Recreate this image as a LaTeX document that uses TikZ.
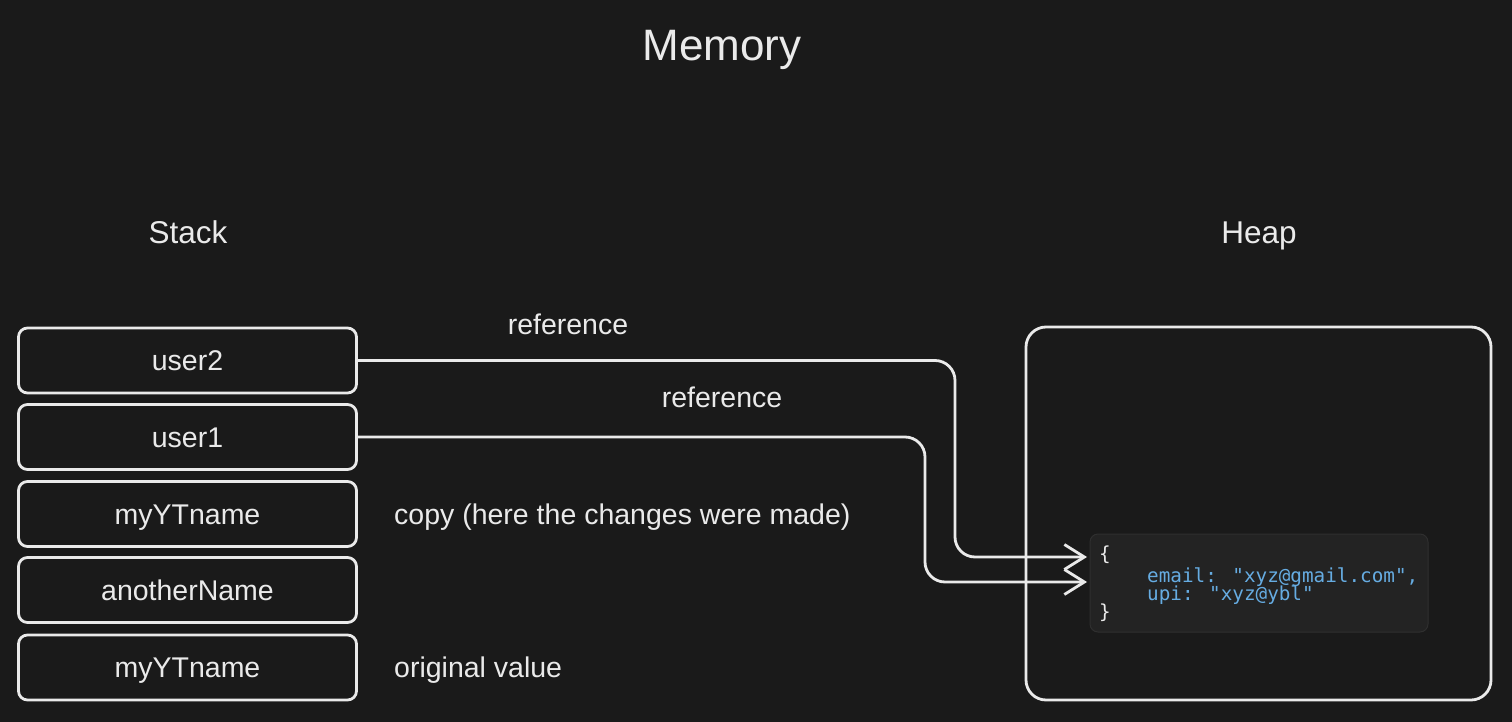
\documentclass[tikz,border=0pt]{standalone}
\usepackage{fontspec}
\setmainfont{Liberation Sans}
\newfontfamily\codefont{DejaVu Sans Mono}
\usetikzlibrary{arrows.meta}
\definecolor{bg}{HTML}{1A1A1A}
\definecolor{ink}{HTML}{EAEAEA}
\definecolor{codebg}{HTML}{232323}
\definecolor{codeline}{HTML}{2F2F2F}
\definecolor{codeblue}{HTML}{66ACE2}
\tikzset{
  stackbox/.style={draw=ink, line width=2.8pt, rounded corners=9pt, minimum width=338pt, minimum height=65pt, inner sep=0pt, text=ink, text height=20pt, text depth=0pt, font=\fontsize{28.5}{32}\selectfont},
  title/.style={text=ink, inner sep=0pt, anchor=base},
  lbl/.style={text=ink, inner sep=0pt, text height=20pt, text depth=0pt, font=\fontsize{28.5}{32}\selectfont},
  conn/.style={draw=ink, line width=2.8pt, rounded corners=20pt, -{Straight Barb[length=20pt,width=25pt,line width=2.8pt]}},
  codetxt/.style={inner sep=0pt, anchor=base west, font=\codefont\fontsize{19.3}{20}\selectfont},
}
\begin{document}
\begin{tikzpicture}[x=1pt,y=-1pt]
\fill[bg] (0,0) rectangle (1512,722);
\useasboundingbox (0,0) rectangle (1512,722);

\node[title, font=\fontsize{44}{50}\selectfont] (mem) at (722,61) {Memory};
\node[title, font=\fontsize{31.5}{36}\selectfont] (stack) at (188,243) {Stack};
\node[title, font=\fontsize{31.5}{36}\selectfont] (heap) at (1259,243) {Heap};

\node[stackbox] (u2) at (187.5,360.5) {user2};
\node[stackbox] (u1) at (187.5,437) {user1};
\node[stackbox] (yt2) at (187.5,514) {myYTname};
\node[stackbox] (an) at (187.5,590) {anotherName};
\node[stackbox] (yt1) at (187.5,667.5) {myYTname};

\node[lbl] (ref2) at (568,324) {reference};
\node[lbl] (ref1) at (722,397) {reference};
\node[lbl, anchor=west] (copy) at (394,514) {copy (here the changes were made)};
\node[lbl, anchor=west] (orig) at (394,667) {original value};

\node[draw=ink, line width=2.8pt, rounded corners=20pt, minimum width=465pt, minimum height=373pt, inner sep=0pt] (hp) at (1258.5,513.5) {};

\node[draw=codeline, line width=1pt, fill=codebg, rounded corners=8pt, minimum width=338pt, minimum height=98pt, inner sep=0pt] (code) at (1259,583) {};
\node[codetxt, text=ink] (c1) at (1099,560) {\{};
\node[codetxt, text=codeblue] (c2) at (1147,582) {email: "xyz@gmail.com",};
\node[codetxt, text=codeblue] (c3) at (1147,600) {upi: "xyz@ybl"};
\node[codetxt, text=ink] (c4) at (1099,618) {\}};

\coordinate (v1) at (955,0);
\coordinate (v2) at (925,0);
\coordinate (t1) at (1087,557);
\coordinate (t2) at (1087,582);
\draw[conn] (u2.east) -- (u2.east -| v1) -- (v1 |- t1) -- (t1);
\draw[conn] (u1.east) -- (u1.east -| v2) -- (v2 |- t2) -- (t2);
\end{tikzpicture}
\end{document}
